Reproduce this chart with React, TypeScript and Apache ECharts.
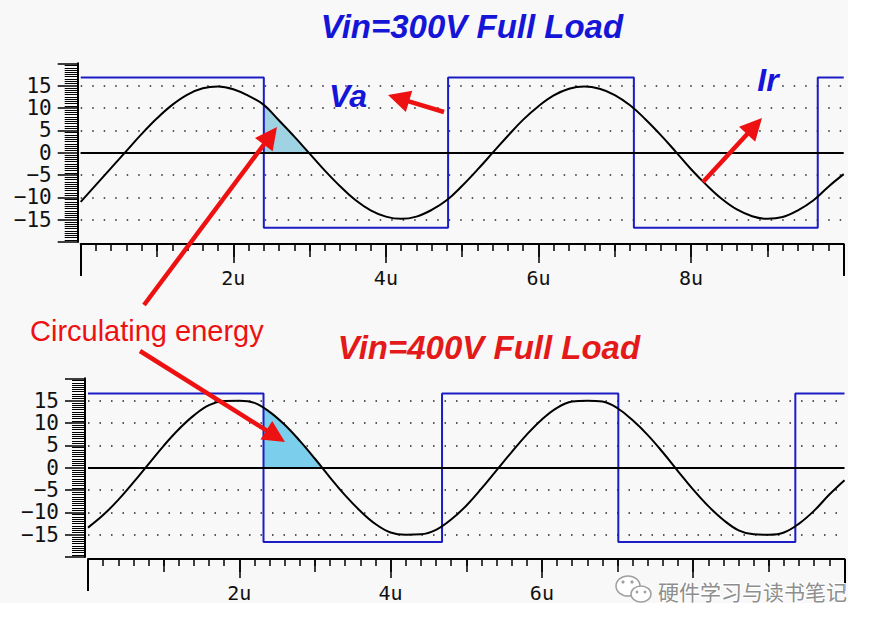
import React, { useEffect, useRef } from "react";
import * as echarts from "echarts";

// ---- data ----
const xSamples = [
  0, 0.2, 0.4, 0.6, 0.8, 1.0, 1.2, 1.4, 1.6, 1.8,
  2.0, 2.2, 2.4, 2.6, 2.8, 3.0, 3.2, 3.4, 3.6, 3.8,
  4.0, 4.2, 4.4, 4.6, 4.8, 5.0, 5.2, 5.4, 5.6, 5.8,
  6.0, 6.2, 6.4, 6.6, 6.8, 7.0, 7.2, 7.4, 7.6, 7.8,
  8.0, 8.2, 8.4, 8.6, 8.8, 9.0, 9.2, 9.4, 9.6, 9.8, 10.0,
];
const topIr = [
  -11.0, -7.2, -3.4, 0.4, 4.2, 7.7, 10.7, 13.0, 14.4, 14.8,
  14.2, 12.7, 10.7, 7.2, 3.6, -0.2, -4.0, -7.5, -10.6, -12.9,
  -14.3, -14.8, -14.3, -12.8, -10.6, -7.4, -3.8, 0.0, 3.8, 7.4,
  10.4, 12.8, 14.3, 14.8, 14.3, 12.9, 10.6, 7.5, 4.0, 0.2,
  -3.7, -7.2, -10.3, -12.7, -14.2, -14.8, -14.4, -12.9, -10.7, -7.6, -4.8,
];
const bottomIr = [
  -13.4, -10.6, -7.2, -3.3, 0.8, 4.9, 8.6, 11.7, 14.0, 14.9,
  15.0, 14.5, 12.5, 9.6, 6.0, 2.0, -2.2, -6.2, -9.7, -12.6,
  -14.5, -15.0, -14.9, -13.9, -11.6, -8.5, -4.7, -0.6, 3.5, 7.4,
  10.8, 13.4, 14.8, 15.0, 14.8, 13.3, 10.6, 7.3, 3.4, -0.8,
  -4.9, -8.6, -11.7, -14.0, -14.9, -15.0, -14.5, -12.5, -9.6, -6.0, -2.8,
];
const topVaX = [0, 2.4, 2.4, 4.815, 4.815, 7.25, 7.25, 9.66, 9.66, 10];
const topVaY = [16.8, 16.8, -16.8, -16.8, 16.8, 16.8, -16.8, -16.8, 16.8, 16.8];
const bottomVaX = [0, 2.32, 2.32, 4.68, 4.68, 7.01, 7.01, 9.35, 9.35, 10];
const bottomVaY = [16.6, 16.6, -16.6, -16.6, 16.6, 16.6, -16.6, -16.6, 16.6, 16.6];
const topShadeX = [2.4, 2.6, 2.8, 2.99];
const topShadeY = [10.7, 7.2, 3.6, 0];
const bottomShadeX = [2.32, 2.4, 2.6, 2.8, 3.0, 3.08];
const bottomShadeY = [13.4, 12.5, 9.6, 6.0, 2.0, 0];
const topXTickLabels = ["", "2u", "4u", "6u", "8u", ""]; // 0..10 step 2
const bottomXTickLabels = ["", "2u", "4u", "6u", "", ""]; // 8u hidden under the watermark
const yTickLabels = ["", "\u221215", "\u221210", "\u22125", "0", "5", "10", "15", ""]; // -20..20 step 5

const zip = (xs: number[], ys: number[]) => xs.map((x, i) => [x, ys[i]]);

const MONO = '"DejaVu Sans Mono", "Liberation Mono", monospace';
const SANS = '"Liberation Sans", Arial, sans-serif';
const RED = "#ee1111";
const BLUE_T = "#1515d8";
const SQ_BLUE = "#1c1cc4";

function makeXAxes(gridIndex: number, labels: string[]) {
  const base = {
    type: "value",
    gridIndex,
    min: 0,
    max: 10,
    position: "bottom",
    offset: 2,
    splitLine: { show: false },
  };
  return [
    {
      ...base,
      interval: 2,
      axisLine: { show: true, onZero: false, lineStyle: { color: "#000", width: 2 } },
      axisTick: { show: true, length: 19, lineStyle: { color: "#000", width: 1.5 } },
      minorTick: { show: true, splitNumber: 10, length: 7, lineStyle: { color: "#000", width: 1.5 } },
      axisLabel: {
        show: true,
        margin: 24,
        fontFamily: MONO,
        fontSize: 20,
        color: "#111",
        formatter: (v: number) => labels[Math.round(v / 2)] ?? "",
      },
    },
    {
      ...base,
      interval: 1,
      axisLine: { show: false, onZero: false },
      axisTick: { show: true, length: 13, lineStyle: { color: "#000", width: 1.5 } },
      axisLabel: { show: false },
    },
    {
      ...base,
      interval: 10,
      axisLine: { show: false, onZero: false },
      axisTick: { show: true, length: 32, lineStyle: { color: "#000", width: 2 } },
      axisLabel: { show: false },
    },
  ];
}

function makeYAxis(gridIndex: number) {
  return {
    type: "value",
    gridIndex,
    min: -20,
    max: 20,
    interval: 5,
    position: "left",
    offset: 3,
    axisLine: { show: true, onZero: false, lineStyle: { color: "#000", width: 2 } },
    axisTick: { show: true, length: 20, lineStyle: { color: "#000", width: 1.5 } },
    minorTick: { show: true, splitNumber: 10, length: 13, lineStyle: { color: "#000", width: 1 } },
    axisLabel: {
      margin: 26,
      fontFamily: MONO,
      fontSize: 21,
      color: "#111",
      formatter: (v: number) => yTickLabels[Math.round((v + 20) / 5)] ?? "",
    },
    splitLine: {
      show: true,
      showMinLine: false,
      showMaxLine: false,
      lineStyle: { color: "#222", type: [1.5, 10], width: 1.5 },
    },
  };
}

function chartSeries(xi: number, yi: number, ir: number[], vaX: number[], vaY: number[], shX: number[], shY: number[], shadeColor: string) {
  return [
    {
      type: "line",
      xAxisIndex: xi,
      yAxisIndex: yi,
      data: zip(shX, shY),
      symbol: "none",
      lineStyle: { width: 0 },
      areaStyle: { color: shadeColor, opacity: 1, origin: 0 },
      z: 1,
      silent: true,
    },
    {
      type: "line",
      xAxisIndex: xi,
      yAxisIndex: yi,
      data: zip(vaX, vaY),
      symbol: "none",
      lineStyle: { color: SQ_BLUE, width: 2 },
      z: 2,
      silent: true,
    },
    {
      type: "line",
      xAxisIndex: xi,
      yAxisIndex: yi,
      data: zip(xSamples, ir),
      symbol: "none",
      smooth: 0.4,
      lineStyle: { color: "#000", width: 2 },
      z: 3,
      silent: true,
      markLine: {
        silent: true,
        symbol: "none",
        label: { show: false },
        lineStyle: { color: "#000", width: 2, type: "solid" },
        data: [{ yAxis: 0 }],
      },
    },
  ];
}

function arrow(tail: [number, number], tip: [number, number]) {
  const dx = tip[0] - tail[0];
  const dy = tip[1] - tail[1];
  const len = Math.sqrt(dx * dx + dy * dy);
  const ux = dx / len;
  const uy = dy / len;
  const hl = 22;
  const hw = 11;
  const bx = tip[0] - ux * hl;
  const by = tip[1] - uy * hl;
  return [
    {
      type: "line",
      shape: { x1: tail[0], y1: tail[1], x2: bx + ux * 2, y2: by + uy * 2 },
      style: { stroke: RED, lineWidth: 4.5 },
      z: 100,
    },
    {
      type: "polygon",
      shape: {
        points: [
          [tip[0], tip[1]],
          [bx - uy * hw, by + ux * hw],
          [bx + uy * hw, by - ux * hw],
        ],
      },
      style: { fill: RED },
      z: 100,
    },
  ];
}

function txt(text: string, x: number, y: number, font: string, fill: string, align = "center") {
  return {
    type: "text",
    x,
    y,
    z: 100,
    style: {
      text,
      font,
      fill,
      textAlign: align,
      align,
      textVerticalAlign: "middle",
      verticalAlign: "middle",
    },
  };
}

export default function App() {
  const ref = useRef<HTMLDivElement>(null);
  useEffect(() => {
    if (!ref.current) return;
    const chart = echarts.init(ref.current, undefined, { renderer: "svg" });
    const option: any = {
      animation: false,
      backgroundColor: "#f8f8f8",
      grid: [
        { left: 80.7, top: 63.3, width: 763, height: 178.8 },
        { left: 88, top: 378.3, width: 756.5, height: 178.8 },
      ],
      xAxis: [...makeXAxes(0, topXTickLabels), ...makeXAxes(1, bottomXTickLabels)],
      yAxis: [makeYAxis(0), makeYAxis(1)],
      series: [
        ...chartSeries(0, 0, topIr, topVaX, topVaY, topShadeX, topShadeY, "#9fd3e4"),
        ...chartSeries(3, 1, bottomIr, bottomVaX, bottomVaY, bottomShadeX, bottomShadeY, "#7ccfec"),
      ],
      graphic: {
        elements: [
          { type: "rect", shape: { x: 848, y: 0, width: 40, height: 630 }, style: { fill: "#ffffff" }, z: 50 },
          { type: "rect", shape: { x: 0, y: 603, width: 883, height: 30 }, style: { fill: "#ffffff" }, z: 50 },
          txt("Vin=300V Full Load", 472, 26, `italic bold 33px ${SANS}`, BLUE_T),
          txt("Vin=400V Full Load", 489, 347, `italic bold 33px ${SANS}`, "#e41a1a"),
          txt("Va", 348, 96, `italic bold 32px ${SANS}`, BLUE_T),
          txt("Ir", 768, 80, `italic bold 32px ${SANS}`, BLUE_T),
          txt("Circulating energy", 30, 331, `29px ${SANS}`, "#ee1111", "left"),
          ...arrow([144, 305], [277, 127]),
          ...arrow([140, 351], [285, 442]),
          ...arrow([444, 112], [388, 95]),
          ...arrow([703, 182], [762, 118]),
          // WeChat-like watermark icon
          { type: "ellipse", shape: { cx: 628, cy: 586, rx: 12, ry: 10 }, style: { fill: "#ffffff", stroke: "#a0a0a0", lineWidth: 1.5 }, z: 60 },
          { type: "ellipse", shape: { cx: 641, cy: 594, rx: 10, ry: 8 }, style: { fill: "#ffffff", stroke: "#a0a0a0", lineWidth: 1.5 }, z: 61 },
          { type: "circle", shape: { cx: 623, cy: 582, r: 1.6 }, style: { fill: "#a0a0a0" }, z: 62 },
          { type: "circle", shape: { cx: 632, cy: 582, r: 1.6 }, style: { fill: "#a0a0a0" }, z: 62 },
          { type: "circle", shape: { cx: 637, cy: 592, r: 1.4 }, style: { fill: "#a0a0a0" }, z: 62 },
          { type: "circle", shape: { cx: 645, cy: 592, r: 1.4 }, style: { fill: "#a0a0a0" }, z: 62 },
          {
            type: "text",
            x: 658,
            y: 591,
            z: 62,
            style: {
              text: "硬件学习与读书笔记",
              font: '21px "Noto Sans CJK SC", sans-serif',
              fill: "#8e8e8e",
              stroke: "#ffffff",
              lineWidth: 2,
              textAlign: "left",
              align: "left",
              textVerticalAlign: "middle",
              verticalAlign: "middle",
            },
          },
        ],
      },
    };
    chart.setOption(option);
    return () => chart.dispose();
  }, []);
  return (
    <div
      ref={ref}
      style={{ position: "fixed", left: 0, top: 0, width: 883, height: 630, background: "#fff" }}
    />
  );
}
